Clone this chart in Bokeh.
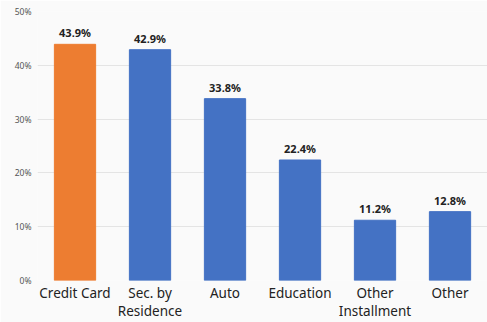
from bokeh.plotting import figure
from bokeh.models import ColumnDataSource, NumeralTickFormatter, Range1d, LabelSet, FactorRange
from bokeh.core.properties import value
from bokeh.embed import file_html
from bokeh.resources import INLINE

categories = ["Credit Card", "Sec. by\nResidence", "Auto", "Education", "Other\nInstallment", "Other"]
values = [0.439, 0.429, 0.338, 0.224, 0.112, 0.128]
labels = ["43.9%", "42.9%", "33.8%", "22.4%", "11.2%", "12.8%"]
colors = ["#ED7D31", "#4472C4", "#4472C4", "#4472C4", "#4472C4", "#4472C4"]

src = ColumnDataSource(dict(cat=categories, val=values, lab=labels, col=colors))

p = figure(width=487, height=322, x_range=FactorRange(*categories, range_padding=0),
           y_range=Range1d(0, 0.5), output_backend="svg", toolbar_location=None,
           background_fill_color="#fafafa", border_fill_color="#fafafa",
           min_border_left=37, min_border_right=0, min_border_top=11, min_border_bottom=0)
p.outline_line_color = None
p.vbar(x="cat", top="val", width=0.55, color="col", source=src)

p.add_layout(LabelSet(x="cat", y="val", text="lab", source=src, text_align="center",
                      text_baseline="bottom", y_offset=4, text_font=value("Noto Sans"),
                      text_font_style="bold", text_font_size="11px", text_color="#222222"))

p.yaxis.ticker = [0, 0.1, 0.2, 0.3, 0.4, 0.5]
p.yaxis.formatter = NumeralTickFormatter(format="0%")
for ax in (p.xaxis, p.yaxis):
    ax.axis_line_color = None
    ax.major_tick_line_color = None
    ax.minor_tick_line_color = None
    ax.major_tick_out = 0
    ax.major_tick_in = 0
    ax.major_label_text_font = "Noto Sans"
p.yaxis.major_label_text_font_size = "8.5px"
p.yaxis.major_label_text_color = "#555555"
p.yaxis.major_label_standoff = 6
p.xaxis.major_label_text_font_size = "13.5px"
p.xaxis.major_label_text_color = "#222222"
p.xaxis.major_label_standoff = 3
p.xaxis.major_label_text_line_height = 1.0
p.xgrid.grid_line_color = None
p.ygrid.grid_line_color = "#e4e4e4"

open("out.html", "w").write(file_html(p, INLINE))
